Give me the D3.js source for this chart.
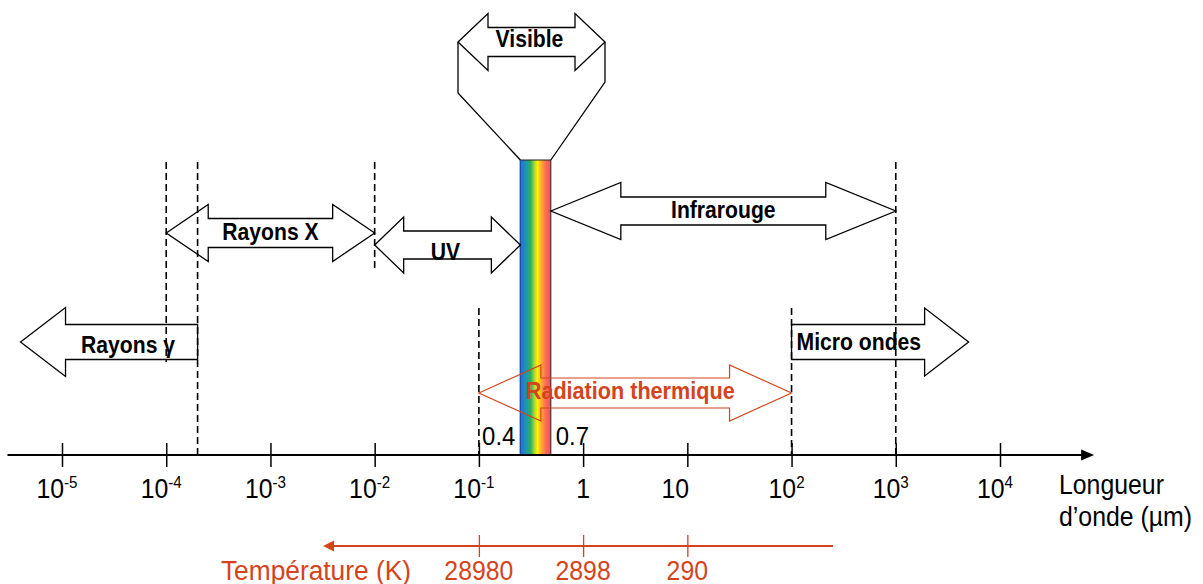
<!DOCTYPE html>
<html><head><meta charset="utf-8">
<script src="https://cdn.jsdelivr.net/npm/d3@7"></script>
<style>html,body{margin:0;padding:0;background:#fff;}svg{display:block;}</style>
</head><body>
<svg id="c" width="1203" height="584"></svg>
<script>
// ---- data ----
const wavelengthTicks = [1e-5, 1e-4, 1e-3, 1e-2, 1e-1, 1, 10, 1e2, 1e3, 1e4];
const tickBase = ["10","10","10","10","10","1","10","10","10","10"];
const tickExp  = ["-5","-4","-3","-2","-1","","","2","3","4"];
const axisExtent = [3e-6, 8e4];
const axisTitle = ["Longueur", "d\u2019onde (\u00b5m)"];

const bandNames = ["Rayons \u03b3", "Rayons X", "UV", "Infrarouge", "Micro ondes", "Radiation thermique"];
const bandFrom  = [4e-6, 1e-4, 1e-2, 0.49, 100, 0.1];
const bandTo    = [2e-4, 1e-2, 0.25, 1e3, 5e3, 100];
const bandHeads = ["left", "both", "both", "both", "right", "both"];

const boundaryValues = [1e-4, 2e-4, 1e-2, 0.1, 100, 1000];

const visibleBand = [0.25, 0.49];
const visibleLimits = [0.4, 0.7];
const visibleLimitLabels = ["0.4", "0.7"];
const visibleName = "Visible";

const tempTicks = [0.1, 1, 10];
const tempLabels = ["28980", "2898", "290"];
const tempArrow = [250, 3.2e-3];
const tempTitle = "Temp\u00e9rature (K)";

// ---- layout ----
const axisY = 455, tempY = 546;
const FONT = "'Liberation Sans', Arial, Helvetica, sans-serif";
const RED = "#d4441c";
const SX = 0.92;

const bandLayout = [
  {y:342, head:45, hh:34.5, sh:17.5, anchor:"middle", lx:"mid", ldx:19, ldy:11},
  {y:233, head:42, hh:28.5, sh:14.5, anchor:"middle", lx:"mid", ldx:0, ldy:7},
  {y:245, head:29, hh:28, sh:14, anchor:"middle", lx:"mid", ldx:-2, ldy:15},
  {y:211, head:70, hh:28.5, sh:14, anchor:"middle", lx:"mid", ldx:0, ldy:7},
  {y:342, head:44, hh:34, sh:17.5, anchor:"start", lx:"left", ldx:5, ldy:8},
  {y:393, head:62, hh:28, sh:15, anchor:"middle", lx:"mid", ldx:-5, ldy:6}
];
const boundaryY = [[162,362],[162,455],[162,272],[308,455],[308,455],[162,455]];
const barTop = 160;

const svg = d3.select("#c");
const x = d3.scaleLog().domain([1e-5, 1e4]).range([62, 1000]);
const xv = d3.scaleLinear().domain(visibleLimits).range([458, 605]);

function arrowPath(x0, x1, y, head, hh, sh, type) {
  const p = d3.path();
  if (type === "both") {
    p.moveTo(x0, y); p.lineTo(x0+head, y-hh); p.lineTo(x0+head, y-sh);
    p.lineTo(x1-head, y-sh); p.lineTo(x1-head, y-hh); p.lineTo(x1, y);
    p.lineTo(x1-head, y+hh); p.lineTo(x1-head, y+sh); p.lineTo(x0+head, y+sh);
    p.lineTo(x0+head, y+hh); p.closePath();
  } else if (type === "left") {
    p.moveTo(x0, y); p.lineTo(x0+head, y-hh); p.lineTo(x0+head, y-sh);
    p.lineTo(x1, y-sh); p.lineTo(x1, y+sh); p.lineTo(x0+head, y+sh);
    p.lineTo(x0+head, y+hh); p.closePath();
  } else {
    p.moveTo(x0, y-sh); p.lineTo(x1-head, y-sh); p.lineTo(x1-head, y-hh);
    p.lineTo(x1, y); p.lineTo(x1-head, y+hh); p.lineTo(x1-head, y+sh);
    p.lineTo(x0, y+sh); p.closePath();
  }
  return p.toString();
}

function label(g, tx, ty, txt, opts) {
  return g.append("text")
    .attr("transform", `translate(${tx},${ty}) scale(${opts.sx || SX},1)`)
    .attr("text-anchor", opts.anchor || "middle")
    .attr("font-family", FONT)
    .attr("font-size", opts.size)
    .attr("font-weight", opts.weight || "normal")
    .attr("fill", opts.fill || "#000")
    .text(txt);
}

// gradient
const defs = svg.append("defs");
const grad = defs.append("linearGradient").attr("id", "rainbow").attr("x1", "0").attr("x2", "1").attr("y1", "0").attr("y2", "0");
[["0","#2d6cd4"],["0.18","#1a94b8"],["0.34","#2fb05a"],["0.46","#a8d83a"],["0.56","#fff200"],["0.7","#ffa535"],["0.84","#ff6a55"],["1","#ff4a6c"]]
  .forEach(s => grad.append("stop").attr("offset", s[0]).attr("stop-color", s[1]));

// rainbow bar
svg.append("rect")
  .attr("x", x(visibleBand[0])).attr("y", barTop)
  .attr("width", x(visibleBand[1]) - x(visibleBand[0])).attr("height", axisY - barTop)
  .attr("fill", "url(#rainbow)").attr("stroke", "#222").attr("stroke-width", 1);
svg.append("line").attr("x1", x(visibleBand[0])).attr("x2", x(visibleBand[0]))
  .attr("y1", barTop).attr("y2", axisY).attr("stroke", "#1d4fb0").attr("stroke-width", 1.2);

// funnel + visible arrow
const vy = 42;
const funnel = d3.path();
funnel.moveTo(xv(visibleLimits[0]), vy); funnel.lineTo(xv(visibleLimits[0]), 93); funnel.lineTo(x(visibleBand[0]), barTop);
funnel.moveTo(xv(visibleLimits[1]), vy); funnel.lineTo(xv(visibleLimits[1]), 82); funnel.lineTo(x(visibleBand[1]), barTop);
svg.append("path").attr("d", funnel.toString()).attr("fill", "none").attr("stroke", "#000").attr("stroke-width", 1.3);
svg.append("path").attr("d", arrowPath(xv(visibleLimits[0]), xv(visibleLimits[1]), vy, 30, 28.5, 14.5, "both"))
  .attr("fill", "#fff").attr("stroke", "#000").attr("stroke-width", 1.3);
label(svg, (xv(visibleLimits[0]) + xv(visibleLimits[1]))/2 - 2, vy + 5, visibleName, {size: 23, weight: "bold"});

// band arrows
bandNames.forEach((name, i) => {
  const L = bandLayout[i];
  const x0 = x(bandFrom[i]), x1 = x(bandTo[i]);
  const isRed = i === 5;
  svg.append("path").attr("d", arrowPath(x0, x1, L.y, L.head, L.hh, L.sh, bandHeads[i]))
    .attr("fill", "none").attr("stroke", isRed ? RED : "#000").attr("stroke-width", isRed ? 1.2 : 1.3);
  const tx = L.lx === "mid" ? (x0 + x1)/2 + L.ldx : x0 + L.ldx;
  label(svg, tx, L.y + L.ldy, name, {size: isRed ? 23.5 : 23, weight: "bold", anchor: L.anchor, fill: isRed ? RED : "#000"});
});

// dashed boundaries
boundaryValues.forEach((v, i) => {
  svg.append("line").attr("x1", x(v)).attr("x2", x(v))
    .attr("y1", boundaryY[i][0]).attr("y2", boundaryY[i][1])
    .attr("stroke", "#000").attr("stroke-width", 1.6).attr("stroke-dasharray", "7,4");
});

// 0.4 / 0.7 labels
label(svg, x(visibleBand[0]) - 5, 445, visibleLimitLabels[0], {size: 26, anchor: "end"});
label(svg, x(visibleBand[1]) + 5, 445, visibleLimitLabels[1], {size: 26, anchor: "start"});

// main axis
const axisG = svg.append("g").attr("transform", `translate(0,${axisY})`);
axisG.call(d3.axisBottom(x).tickValues(wavelengthTicks).tickSize(12).tickFormat(""));
axisG.select(".domain").remove();
axisG.selectAll(".tick line").attr("y1", -12).attr("y2", 12).attr("stroke", "#000").attr("stroke-width", 1.5);
const ax0 = x(axisExtent[0]), ax1 = x(axisExtent[1]);
svg.append("line").attr("x1", ax0).attr("x2", ax1 - 8).attr("y1", axisY).attr("y2", axisY)
  .attr("stroke", "#000").attr("stroke-width", 2);
svg.append("path").attr("d", `M${ax1},${axisY}L${ax1-13},${axisY-5.5}L${ax1-13},${axisY+5.5}Z`).attr("fill", "#000");

// tick labels
wavelengthTicks.forEach((v, i) => {
  const t = svg.append("text")
    .attr("transform", `translate(${x(v) - (tickExp[i] ? 5 : (tickBase[i] === "10" ? 12 : 0))},498) scale(${SX},1)`)
    .attr("text-anchor", "middle").attr("font-family", FONT).attr("font-size", 27).attr("fill", "#000");
  t.append("tspan").text(tickBase[i]);
  if (tickExp[i]) {
    t.append("tspan").attr("dy", -10).attr("font-size", 16.5).text(tickExp[i]);
  }
});
label(svg, 1059, 494, axisTitle[0], {size: 27, anchor: "start"});
label(svg, 1059, 526, axisTitle[1], {size: 27, anchor: "start"});

// temperature axis
const tG = svg.append("g").attr("transform", `translate(0,${tempY})`);
tG.call(d3.axisBottom(x).tickValues(tempTicks).tickSize(11).tickFormat(""));
tG.select(".domain").remove();
tG.selectAll(".tick line").attr("y1", -11).attr("y2", 11).attr("stroke", RED).attr("stroke-width", 1.3);
const t0 = x(tempArrow[0]), t1 = x(tempArrow[1]);
svg.append("line").attr("x1", t0).attr("x2", t1 + 8).attr("y1", tempY).attr("y2", tempY)
  .attr("stroke", RED).attr("stroke-width", 2);
svg.append("path").attr("d", `M${t1},${tempY}L${t1+11},${tempY-5.5}L${t1+11},${tempY+5.5}Z`).attr("fill", RED);
tempTicks.forEach((v, i) => {
  label(svg, x(v), 580, tempLabels[i], {size: 27, fill: RED});
});
label(svg, 411, 580, tempTitle, {size: 28, sx: 0.94, anchor: "end", fill: RED});
</script>
</body></html>
